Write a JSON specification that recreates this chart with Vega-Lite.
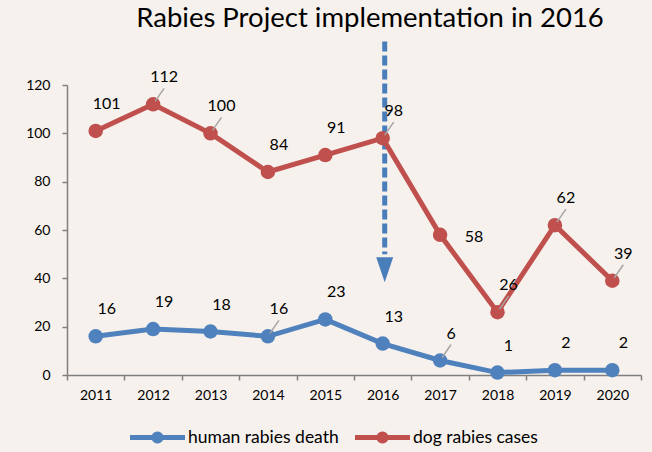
{
  "$schema": "https://vega.github.io/schema/vega-lite/v6.json",
  "autosize": "none",
  "width": 574,
  "height": 290,
  "padding": {"left": 67, "top": 85, "right": 11, "bottom": 77},
  "background": "#f6f1ec",
  "title": {"text": "Rabies Project implementation in 2016", "fontSize": 27.5, "fontWeight": "normal", "font": "Lato", "color": "#000000", "frame": "group", "anchor": "middle", "dx": 16, "offset": 7},
  "config": {
    "view": {"stroke": null},
    "font": "Lato",
    "axisX": {"title": null, "labelAngle": 0, "tickBand": "extent", "domainColor": "#7f7f7f", "tickColor": "#7f7f7f", "tickSize": 5, "labelFontSize": 14, "labelColor": "#000000", "labelPadding": 8, "grid": false, "domainWidth": 1.5, "tickWidth": 1.5},
    "axisY": {"title": null, "grid": false, "tickSize": 5, "labelPadding": 12, "labelFontSize": 14, "labelColor": "#000000", "domainColor": "#7f7f7f", "tickColor": "#7f7f7f", "domainWidth": 1.5, "tickWidth": 1.5, "values": [0, 20, 40, 60, 80, 100, 120]},
    "legend": {"orient": "none", "legendX": 63, "legendY": 325, "direction": "horizontal", "labelFontSize": 17.5, "labelColor": "#000000", "symbolType": "M-1,-0.09H-0.2A0.22,0.22,0,0,1,0.2,-0.09H1V0.09H0.2A0.22,0.22,0,0,1,-0.2,0.09H-1Z", "symbolSize": 3025, "columnPadding": 16, "labelOffset": 3, "symbolStrokeWidth": 0, "symbolOpacity": 1}
  },
  "datasets": {
    "series": [
      {"year": "2011", "series": "dog rabies cases", "value": 101},
      {"year": "2012", "series": "dog rabies cases", "value": 112},
      {"year": "2013", "series": "dog rabies cases", "value": 100},
      {"year": "2014", "series": "dog rabies cases", "value": 84},
      {"year": "2015", "series": "dog rabies cases", "value": 91},
      {"year": "2016", "series": "dog rabies cases", "value": 98},
      {"year": "2017", "series": "dog rabies cases", "value": 58},
      {"year": "2018", "series": "dog rabies cases", "value": 26},
      {"year": "2019", "series": "dog rabies cases", "value": 62},
      {"year": "2020", "series": "dog rabies cases", "value": 39},
      {"year": "2011", "series": "human rabies death", "value": 16},
      {"year": "2012", "series": "human rabies death", "value": 19},
      {"year": "2013", "series": "human rabies death", "value": 18},
      {"year": "2014", "series": "human rabies death", "value": 16},
      {"year": "2015", "series": "human rabies death", "value": 23},
      {"year": "2016", "series": "human rabies death", "value": 13},
      {"year": "2017", "series": "human rabies death", "value": 6},
      {"year": "2018", "series": "human rabies death", "value": 1},
      {"year": "2019", "series": "human rabies death", "value": 2},
      {"year": "2020", "series": "human rabies death", "value": 2}
    ],
    "arrow": [
      {"year": "2016", "from": 138, "to": 50, "head": 43.6}
    ]
  },
  "layer": [
    {
      "data": {"name": "arrow"},
      "mark": {"type": "rule", "color": "#4a7ebb", "strokeWidth": 5, "strokeDash": [10, 4], "xOffset": 2},
      "encoding": {
        "x": {"field": "year", "type": "nominal", "scale": {"type": "band", "paddingInner": 0, "paddingOuter": 0}},
        "y": {"field": "from", "type": "quantitative", "scale": {"domain": [0, 120], "nice": false}},
        "y2": {"field": "to"}
      }
    },
    {
      "data": {"name": "arrow"},
      "mark": {"type": "point", "filled": true, "color": "#4a7ebb", "opacity": 1, "size": 625, "shape": "M-0.68,-1L0.68,-1L0,1Z", "xOffset": 2},
      "encoding": {
        "x": {"field": "year", "type": "nominal"},
        "y": {"field": "head", "type": "quantitative"}
      }
    },
    {
      "data": {"name": "series"},
      "mark": {"type": "point", "filled": true, "opacity": 1, "size": 210, "shape": "circle"},
      "encoding": {
        "x": {"field": "year", "type": "nominal"},
        "y": {"field": "value", "type": "quantitative"},
        "color": {"field": "series", "type": "nominal", "scale": {"domain": ["human rabies death", "dog rabies cases"], "range": ["#4f81bd", "#c0504d"]}, "legend": {"title": null}}
      }
    },
    {
      "data": {"name": "series"},
      "mark": {"type": "line", "strokeWidth": 5},
      "encoding": {
        "x": {"field": "year", "type": "nominal"},
        "y": {"field": "value", "type": "quantitative"},
        "color": {"field": "series", "type": "nominal", "legend": null}
      }
    },
    {
      "data": {"name": "series"},
      "transform": [{"filter": "(datum.series == 'dog rabies cases' && indexof(['2012','2013','2016','2018','2019','2020'], datum.year) >= 0) || (datum.series == 'human rabies death' && indexof(['2014','2017'], datum.year) >= 0)"}],
      "mark": {"type": "rule", "color": "#a6a6a6", "strokeWidth": 1.5, "xOffset": 2, "yOffset": -3, "x2Offset": 11, "y2Offset": -16},
      "encoding": {
        "x": {"field": "year", "type": "nominal"},
        "y": {"field": "value", "type": "quantitative"},
        "x2": {"field": "year"},
        "y2": {"field": "value"}
      }
    },
    {
      "data": {"name": "series"},
      "transform": [{"filter": "!(datum.series == 'dog rabies cases' && datum.year == '2017')"}],
      "mark": {"type": "text", "fontSize": 16, "color": "#000000", "dx": 11, "dy": -27},
      "encoding": {
        "x": {"field": "year", "type": "nominal"},
        "y": {"field": "value", "type": "quantitative"},
        "text": {"field": "value", "type": "quantitative"}
      }
    },
    {
      "data": {"name": "series"},
      "transform": [{"filter": "datum.series == 'dog rabies cases' && datum.year == '2017'"}],
      "mark": {"type": "text", "fontSize": 16, "color": "#000000", "dx": 34, "dy": 2},
      "encoding": {
        "x": {"field": "year", "type": "nominal"},
        "y": {"field": "value", "type": "quantitative"},
        "text": {"field": "value", "type": "quantitative"}
      }
    }
  ]
}
